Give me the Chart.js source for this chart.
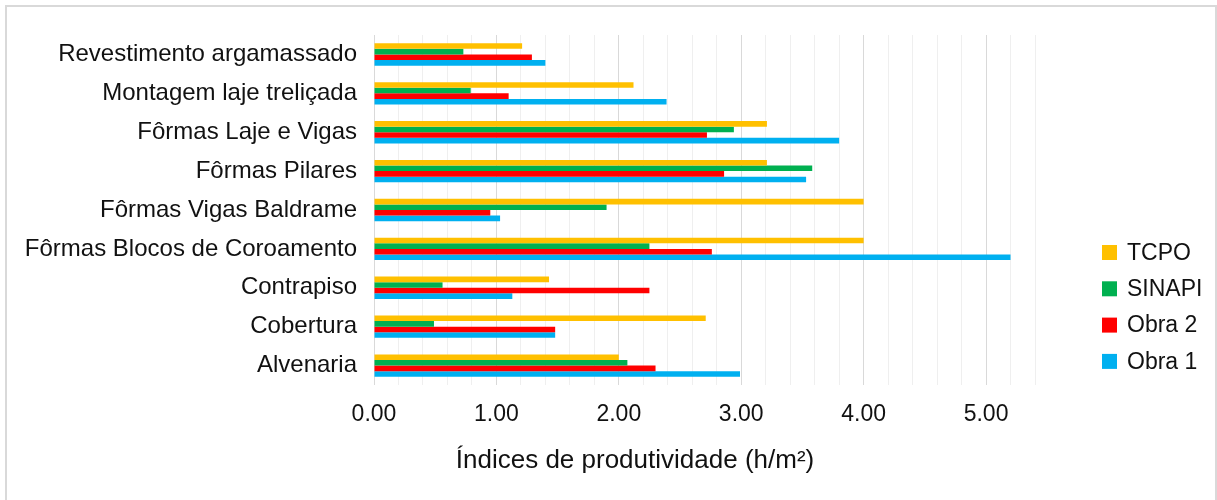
<!DOCTYPE html>
<html>
<head>
<meta charset="utf-8">
<script src="https://cdn.jsdelivr.net/npm/chart.js@4"></script>
<style>
  html, body { margin: 0; padding: 0; background: #fff; }
  #wrap { position: relative; width: 1217px; height: 500px; overflow: hidden; }
  #frame { position: absolute; left: 5px; top: 5px; width: 1212px; height: 520px;
           box-sizing: border-box; border: 2px solid #d9d9d9; }
  canvas { position: absolute; left: 0; top: 0; }
</style>
</head>
<body>
<div id="wrap">
  <div id="frame"></div>
  <canvas id="c" width="1217" height="500"></canvas>
</div>
<script>
// Activities (top to bottom)
const categories = [
  'Revestimento argamassado',
  'Montagem laje treliçada',
  'Fôrmas Laje e Vigas',
  'Fôrmas Pilares',
  'Fôrmas Vigas Baldrame',
  'Fôrmas Blocos de Coroamento',
  'Contrapiso',
  'Cobertura',
  'Alvenaria'
];

// Productivity indices (h/m²) per source
const tcpo   = [1.21, 2.12, 3.21, 3.21, 4.00, 4.00, 1.43, 2.71, 2.00];
const sinapi = [0.73, 0.79, 2.94, 3.58, 1.90, 2.25, 0.56, 0.49, 2.07];
const obra2  = [1.29, 1.10, 2.72, 2.86, 0.95, 2.76, 2.25, 1.48, 2.30];
const obra1  = [1.40, 2.39, 3.80, 3.53, 1.03, 5.20, 1.13, 1.48, 2.99];

const seriesNames = ['TCPO', 'SINAPI', 'Obra 2', 'Obra 1'];
const seriesColors = ['#FFC000', '#00B050', '#FF0000', '#00B0F0'];

const tickLabels = ['0.00', '1.00', '2.00', '3.00', '4.00', '5.00'];
const axisTitle = 'Índices de produtividade (h/m²)';

const FONT = "'Liberation Sans', Arial, sans-serif";
const TEXT = '#111';

// Legend and axis title drawn on the canvas after the chart
const extras = {
  id: 'extras',
  afterDraw(chart) {
    const ctx = chart.ctx;
    ctx.save();
    ctx.fillStyle = TEXT;
    ctx.font = '26px ' + FONT;
    ctx.textAlign = 'center';
    ctx.textBaseline = 'middle';
    ctx.fillText(axisTitle, 635, 461);

    ctx.font = '23px ' + FONT;
    ctx.textAlign = 'left';
    chart.data.datasets.forEach((ds, i) => {
      const cy = 252.5 + i * 36.3;
      ctx.fillStyle = ds.backgroundColor;
      ctx.fillRect(1102, cy - 7.5, 15, 15);
      ctx.fillStyle = TEXT;
      ctx.fillText(ds.label, 1127, cy + 1);
    });
    ctx.restore();
  }
};

const seriesData = [tcpo, sinapi, obra2, obra1];

new Chart(document.getElementById('c'), {
  type: 'bar',
  data: {
    labels: categories,
    datasets: seriesNames.map((name, i) => ({
      label: name,
      data: seriesData[i],
      backgroundColor: seriesColors[i],
      borderWidth: 0,
      barPercentage: 1.0,
      categoryPercentage: 0.575
    }))
  },
  options: {
    indexAxis: 'y',
    responsive: false,
    animation: false,
    devicePixelRatio: 1,
    layout: { padding: { top: 35, right: 182, bottom: 0, left: 0 } },
    plugins: {
      legend: { display: false },
      tooltip: { enabled: false }
    },
    scales: {
      x: {
        min: 0,
        max: 5.4,
        afterFit(scale) { scale.height = 115; },
        afterBuildTicks(scale) {
          const t = [];
          for (let k = 0; k <= 27; k++) t.push({ value: Math.round(k * 20) / 100 });
          scale.ticks = t;
        },
        border: { display: false },
        grid: {
          drawTicks: false,
          lineWidth: 1,
          color: (c) => {
            const v = c.tick ? c.tick.value : 0;
            return Math.abs(v - Math.round(v)) < 1e-6 ? '#d9d9d9' : '#efefef';
          }
        },
        ticks: {
          autoSkip: false,
          maxRotation: 0,
          padding: 16,
          color: TEXT,
          font: { family: FONT, size: 23 },
          callback: (v) => {
            const r = Math.round(v);
            return Math.abs(v - r) < 1e-6 && tickLabels[r] !== undefined ? tickLabels[r] : '';
          }
        }
      },
      y: {
        afterFit(scale) { scale.width = 374; },
        border: { display: false },
        grid: { display: false, drawTicks: false },
        ticks: {
          autoSkip: false,
          padding: 17,
          color: TEXT,
          font: { family: FONT, size: 24 }
        }
      }
    }
  },
  plugins: [extras]
});
</script>
</body>
</html>
